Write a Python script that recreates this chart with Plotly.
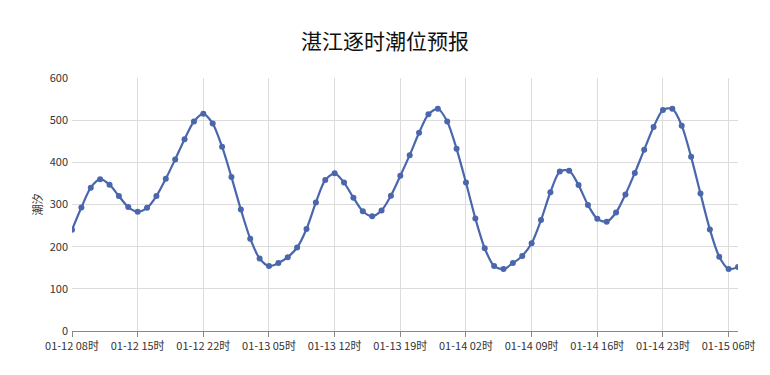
import plotly.graph_objects as go

# hourly tide levels from 01-12 08时 to 01-15 07时
day12 = [240, 293, 340, 360, 347, 320, 294, 283, 292, 320, 361, 407, 455, 497, 515, 492]
day13 = [437, 365, 288, 219, 172, 154, 161, 175, 198, 242, 305, 358, 374, 352, 316, 284,
         272, 286, 321, 368, 417, 470, 514, 527]
day14 = [497, 432, 352, 267, 196, 154, 147, 161, 178, 208, 263, 329, 378, 380, 346, 299,
         266, 259, 281, 324, 375, 430, 484, 524]
day15 = [527, 487, 413, 326, 241, 176, 147, 152]
values = day12 + day13 + day14 + day15

# time labels
times = []
for h in range(8, 24):
    times.append(f"01-12 {h:02d}时")
for d in (13, 14):
    for h in range(24):
        times.append(f"01-{d} {h:02d}时")
for h in range(0, 8):
    times.append(f"01-15 {h:02d}时")

idx = list(range(len(values)))
tick_idx = list(range(0, len(values), 7))
tick_text = [times[i] for i in tick_idx]

color = "#4a66ac"
font = "Noto Sans CJK SC, Microsoft YaHei, sans-serif"

fig = go.Figure(go.Scatter(
    x=idx, y=values, mode="lines+markers",
    line=dict(color=color, width=2.2, shape="spline", smoothing=0.8),
    marker=dict(color=color, size=6),
    text=times, hovertemplate="%{text}<br>%{y}<extra></extra>",
))

fig.update_layout(
    width=770, height=375,
    margin=dict(l=72, r=32, t=78, b=44),
    paper_bgcolor="white", plot_bgcolor="white",
    font=dict(family=font, size=11, color="#333"),
    title=dict(text="湛江逐时潮位预报", x=0.5, xanchor="center", y=0.888, yanchor="middle",
               font=dict(family=font, size=21, color="#111")),
    showlegend=False,
)
fig.update_xaxes(
    range=[0, len(values) - 1], tickvals=tick_idx, ticktext=tick_text,
    showgrid=True, gridcolor="#dcdcdc", gridwidth=1,
    showline=True, linecolor="#888", linewidth=1,
    ticks="outside", ticklen=5, tickcolor="#888",
    tickfont=dict(size=11, color="#333"), zeroline=False,
)
fig.update_yaxes(
    range=[0, 600], tickvals=[0, 100, 200, 300, 400, 500, 600],
    showgrid=True, gridcolor="#dcdcdc", gridwidth=1,
    showline=False, zeroline=False, ticklabelstandoff=3,
    title=dict(text="潮汐", font=dict(size=11, color="#333"), standoff=4),
    tickfont=dict(size=11, color="#333"),
)

fig.write_html("out.html")
